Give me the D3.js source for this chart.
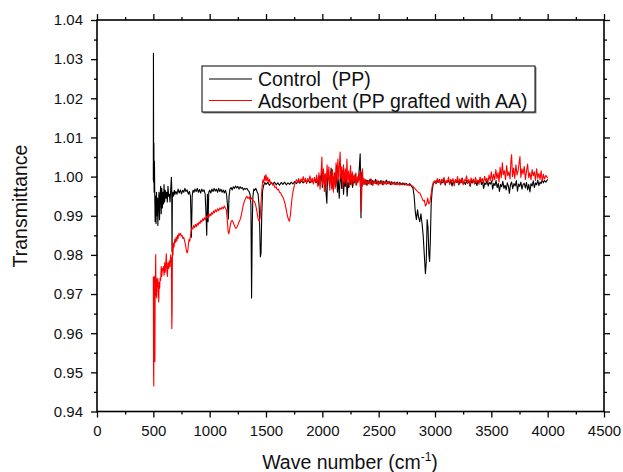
<!DOCTYPE html>
<html>
<head>
<meta charset="utf-8">
<script src="https://cdn.jsdelivr.net/npm/d3@7"></script>
<style>
  body { margin: 0; background: #fff; }
  svg { font-family: "Liberation Sans", Arial, sans-serif; }
  .axis path { display: none; }
  .axis line { stroke: #000; stroke-width: 1.3; }
  .axis text { font-size: 15px; fill: #111; }
</style>
</head>
<body>
<svg id="chart"></svg>
<script>
// FTIR spectra: Control (PP) vs Adsorbent (PP grafted with AA)

const xTicks = [0, 500, 1000, 1500, 2000, 2500, 3000, 3500, 4000, 4500];
const yTicks = [0.94, 0.95, 0.96, 0.97, 0.98, 0.99, 1.00, 1.01, 1.02, 1.03, 1.04];
const seriesNames = ["Control  (PP)", "Adsorbent (PP grafted with AA)"];

// [wave number, transmittance]
const controlPP = [
  [500,0.9990],[501,1.0315],[503,0.9985],[505,1.0085],[507,0.9960],[510,1.0040],[513,0.9945],[516,0.9885],
  [520,0.9950],[524,0.9880],[528,0.9960],[532,0.9900],[536,0.9945],[540,0.9875],[545,0.9930],[550,0.9960],
  [555,0.9890],[560,0.9950],[565,0.9975],[570,0.9905],[575,0.9970],[580,0.9920],[585,0.9960],[590,0.9930],
  [595,0.9980],[600,0.9935],[606,0.9965],[612,0.9945],[618,0.9960],[624,0.9935],[630,0.9975],[636,0.9950],
  [642,0.9955],[648,0.9935],[654,0.9965],[660,0.9998],[663,0.9975],[666,0.9808],[669,0.9945],[674,0.9960],
  [680,0.9950],[686,0.9965],[692,0.9955],[700,0.9962],[710,0.9955],[720,0.9968],[730,0.9958],[740,0.9966],
  [750,0.9956],[760,0.9965],[770,0.9960],[780,0.9970],[790,0.9962],[800,0.9966],[810,0.9955],[820,0.9962],
  [830,0.9950],[838,0.9845],[845,0.9950],[852,0.9965],[860,0.9960],[870,0.9968],[880,0.9962],[890,0.9970],
  [900,0.9960],[910,0.9967],[920,0.9958],[930,0.9968],[940,0.9962],[950,0.9966],[960,0.9955],[968,0.9900],
  [974,0.9850],[980,0.9955],[986,0.9885],[992,0.9960],[1000,0.9965],[1010,0.9958],[1020,0.9968],[1030,0.9962],
  [1040,0.9970],[1050,0.9963],[1060,0.9968],[1070,0.9960],[1080,0.9970],[1090,0.9962],[1100,0.9968],[1110,0.9960],
  [1120,0.9966],[1130,0.9958],[1140,0.9965],[1150,0.9955],[1160,0.9920],[1166,0.9892],[1172,0.9950],[1180,0.9968],
  [1190,0.9972],[1200,0.9966],[1210,0.9974],[1220,0.9970],[1230,0.9976],[1240,0.9971],[1250,0.9975],[1260,0.9968],
  [1270,0.9974],[1280,0.9970],[1290,0.9972],[1300,0.9966],[1310,0.9970],[1320,0.9968],[1330,0.9970],[1340,0.9965],
  [1350,0.9962],[1358,0.9955],[1366,0.9930],[1372,0.9690],[1378,0.9880],[1384,0.9950],[1392,0.9968],[1400,0.9965],
  [1410,0.9970],[1420,0.9962],[1430,0.9955],[1440,0.9920],[1450,0.9795],[1456,0.9805],[1462,0.9900],[1470,0.9965],
  [1480,0.9978],[1490,0.9985],[1500,0.9980],[1515,0.9985],[1530,0.9978],[1545,0.9984],[1560,0.9980],[1575,0.9986],
  [1590,0.9979],[1605,0.9984],[1620,0.9978],[1635,0.9985],[1650,0.9980],[1665,0.9986],[1680,0.9979],[1695,0.9984],
  [1710,0.9980],[1725,0.9986],[1740,0.9981],[1755,0.9987],[1770,0.9982],[1785,0.9988],[1800,0.9983],[1815,0.9989],
  [1830,0.9984],[1845,0.9990],[1860,0.9985],[1875,0.9991],[1890,0.9984],[1905,0.9990],[1920,0.9986],[1935,0.9992],
  [1950,0.9985],[1960,0.9993],[1968,0.9978],[1978,1.0002],[1986,0.9990],[1994,1.0012],[2000,0.9972],[2008,0.9998],
  [2016,0.9985],[2024,1.0006],[2032,0.9962],[2040,0.9932],[2046,0.9995],[2054,1.0012],[2062,0.9980],[2070,0.9990],
  [2078,1.0022],[2086,0.9968],[2094,1.0000],[2102,0.9985],[2110,1.0010],[2118,0.9975],[2126,1.0028],[2134,0.9960],
  [2142,0.9992],[2150,0.9945],[2156,0.9985],[2164,1.0008],[2172,0.9970],[2180,1.0016],[2188,0.9955],[2196,0.9990],
  [2204,0.9975],[2212,1.0012],[2220,0.9950],[2228,0.9985],[2236,0.9972],[2244,1.0004],[2252,0.9980],[2260,0.9993],
  [2268,0.9972],[2276,1.0000],[2284,0.9984],[2292,1.0006],[2300,0.9978],[2308,0.9995],[2316,0.9985],[2324,1.0005],
  [2330,1.0030],[2336,1.0058],[2340,0.9985],[2343,0.9895],[2347,1.0010],[2352,0.9975],[2360,0.9995],[2370,0.9980],
  [2380,0.9992],[2390,0.9978],[2400,0.9990],[2412,0.9982],[2424,0.9994],[2436,0.9980],[2448,0.9990],[2460,0.9983],
  [2472,0.9993],[2484,0.9981],[2496,0.9989],[2508,0.9982],[2520,0.9990],[2532,0.9980],[2544,0.9988],[2556,0.9983],
  [2568,0.9991],[2580,0.9982],[2592,0.9988],[2604,0.9980],[2616,0.9987],[2628,0.9981],[2640,0.9986],[2652,0.9980],
  [2664,0.9986],[2676,0.9981],[2688,0.9985],[2700,0.9980],[2715,0.9984],[2730,0.9979],[2745,0.9983],[2760,0.9978],
  [2775,0.9982],[2790,0.9976],[2805,0.9970],[2815,0.9950],[2825,0.9910],[2835,0.9890],[2845,0.9915],[2855,0.9895],
  [2865,0.9885],[2875,0.9905],[2885,0.9880],[2895,0.9850],[2905,0.9800],[2915,0.9752],[2922,0.9780],[2930,0.9890],
  [2938,0.9870],[2946,0.9800],[2952,0.9783],[2958,0.9830],[2966,0.9930],[2975,0.9965],[2985,0.9982],
  [3000,0.9988],[3010,0.9982],[3020,0.9990],[3028,0.9985],[3040,0.9993],[3050,0.9980],[3058,0.9987],[3070,0.9984],
  [3080,0.9994],[3090,0.9978],[3100,0.9988],[3110,0.9986],[3120,0.9991],[3130,0.9981],[3140,0.9990],[3152,0.9976],
  [3160,0.9986],[3172,0.9983],[3182,0.9992],[3190,0.9985],[3200,0.9989],[3212,0.9979],[3222,0.9991],[3230,0.9984],
  [3242,0.9996],[3250,0.9982],[3260,0.9986],[3270,0.9980],[3282,0.9990],[3290,0.9983],[3302,0.9988],[3312,0.9975],
  [3322,0.9989],[3332,0.9984],[3342,0.9993],[3352,0.9981],[3362,0.9987],[3372,0.9977],[3382,0.9990],[3392,0.9985],
  [3402,0.9994],[3412,0.9980],[3422,0.9986],[3432,0.9970],[3442,0.9984],[3452,0.9980],[3462,0.9991],[3472,0.9976],
  [3482,0.9985],[3492,0.9981],[3502,0.9989],[3512,0.9968],[3522,0.9983],[3532,0.9977],[3542,0.9990],[3552,0.9972],
  [3562,0.9982],[3572,0.9962],[3582,0.9980],[3592,0.9974],[3602,0.9988],[3612,0.9970],[3622,0.9978],[3632,0.9966],
  [3642,0.9984],[3652,0.9975],[3660,0.9957],[3670,0.9979],[3680,0.9986],[3690,0.9969],[3700,0.9982],[3712,0.9976],
  [3722,0.9990],[3732,0.9963],[3742,0.9981],[3752,0.9975],[3762,0.9986],[3772,0.9968],[3782,0.9980],[3792,0.9983],
  [3802,0.9971],[3812,0.9985],[3822,0.9966],[3832,0.9980],[3842,0.9961],[3852,0.9982],[3862,0.9976],[3872,0.9989],
  [3882,0.9972],[3892,0.9984],[3902,0.9979],[3912,0.9991],[3922,0.9977],[3932,0.9986],[3942,0.9982],[3952,0.9992],
  [3962,0.9984],[3972,0.9990],[3984,0.9986],[4000,0.9993]
];

const adsorbentPPAA = [
  [500,0.9745],[502,0.9500],[504,0.9465],[506,0.9720],[508,0.9640],[510,0.9745],[512,0.9600],[514,0.9528],
  [516,0.9700],[518,0.9730],[521,0.9801],[524,0.9695],[527,0.9740],[530,0.9690],[533,0.9735],[536,0.9720],
  [540,0.9740],[544,0.9705],[548,0.9680],[552,0.9730],[556,0.9715],[560,0.9740],[565,0.9735],[570,0.9770],
  [575,0.9745],[580,0.9765],[585,0.9760],[590,0.9770],[595,0.9748],[600,0.9780],[605,0.9755],[610,0.9775],
  [615,0.9803],[620,0.9760],[625,0.9745],[630,0.9780],[636,0.9765],[642,0.9785],[648,0.9770],[654,0.9800],
  [660,0.9790],[664,0.9612],[667,0.9655],[670,0.9830],[674,0.9800],[678,0.9830],[684,0.9820],[690,0.9840],
  [696,0.9832],[702,0.9845],[708,0.9835],[714,0.9850],[720,0.9842],[727,0.9855],[734,0.9850],[741,0.9855],
  [748,0.9848],[755,0.9850],[762,0.9842],[770,0.9845],[778,0.9835],[786,0.9825],[794,0.9810],[800,0.9805],
  [806,0.9810],[812,0.9830],[818,0.9840],[824,0.9835],[830,0.9850],[836,0.9862],[842,0.9870],[850,0.9866],
  [858,0.9875],[866,0.9870],[874,0.9878],[882,0.9872],[890,0.9880],[898,0.9876],[906,0.9884],[914,0.9880],
  [922,0.9888],[930,0.9884],[938,0.9892],[946,0.9888],[954,0.9895],[962,0.9890],[970,0.9898],[978,0.9894],
  [986,0.9902],[994,0.9897],[1002,0.9905],[1010,0.9900],[1018,0.9908],[1026,0.9904],[1034,0.9912],[1042,0.9908],
  [1050,0.9915],[1060,0.9910],[1070,0.9918],[1080,0.9913],[1090,0.9920],[1100,0.9916],[1110,0.9922],[1120,0.9918],
  [1130,0.9925],[1140,0.9920],[1148,0.9915],[1156,0.9890],[1164,0.9860],[1170,0.9854],[1176,0.9862],[1184,0.9878],
  [1192,0.9886],[1200,0.9888],[1208,0.9884],[1216,0.9878],[1224,0.9872],[1232,0.9868],[1240,0.9870],[1250,0.9876],
  [1260,0.9884],[1270,0.9890],[1280,0.9900],[1290,0.9915],[1300,0.9930],[1310,0.9938],[1320,0.9945],[1330,0.9950],
  [1340,0.9944],[1350,0.9948],[1360,0.9940],[1370,0.9946],[1380,0.9940],[1390,0.9938],[1400,0.9935],[1410,0.9925],
  [1420,0.9910],[1430,0.9892],[1440,0.9885],[1448,0.9895],[1456,0.9935],[1464,0.9970],[1472,0.9992],[1480,0.9985],
  [1488,1.0002],[1494,0.9990],[1500,1.0005],[1508,0.9988],[1516,0.9998],[1524,0.9985],[1532,0.9993],[1540,0.9982],
  [1550,0.9986],[1560,0.9978],[1570,0.9980],[1580,0.9972],[1590,0.9974],[1600,0.9966],[1610,0.9968],[1620,0.9960],
  [1630,0.9958],[1640,0.9952],[1650,0.9948],[1660,0.9940],[1670,0.9930],[1680,0.9915],[1690,0.9900],[1700,0.9890],
  [1708,0.9886],[1716,0.9900],[1724,0.9925],[1732,0.9948],[1740,0.9962],[1750,0.9975],[1760,0.9985],[1770,0.9992],
  [1780,0.9986],[1790,0.9995],[1800,0.9984],[1810,0.9994],[1820,0.9988],[1830,1.0000],[1840,0.9986],[1850,0.9996],
  [1860,0.9982],[1870,0.9995],[1880,0.9989],[1890,1.0002],[1900,0.9985],[1910,0.9996],[1920,0.9981],[1930,0.9998],
  [1940,0.9984],[1950,1.0004],[1960,0.9975],[1970,1.0010],[1980,0.9968],[1990,1.0015],[1996,1.0050],[2002,0.9980],
  [2010,1.0020],[2018,0.9962],[2026,1.0008],[2034,0.9975],[2042,1.0030],[2050,0.9990],[2058,1.0025],[2066,0.9965],
  [2074,1.0012],[2082,0.9972],[2090,1.0018],[2098,0.9960],[2106,1.0008],[2114,0.9970],[2122,1.0035],[2130,0.9985],
  [2138,1.0045],[2146,0.9990],[2152,1.0030],[2158,1.0063],[2164,0.9995],[2172,1.0025],[2180,0.9970],[2188,1.0030],
  [2196,0.9985],[2204,1.0020],[2212,0.9980],[2218,1.0045],[2226,0.9985],[2234,1.0015],[2242,0.9975],[2250,1.0028],
  [2258,0.9982],[2266,1.0012],[2274,0.9978],[2282,1.0005],[2290,0.9985],[2298,1.0010],[2306,0.9980],[2314,1.0000],
  [2322,0.9990],[2330,1.0008],[2336,0.9975],[2342,1.0015],[2346,0.9912],[2350,0.9960],[2356,1.0020],[2362,0.9980],
  [2370,0.9995],[2380,0.9980],[2390,0.9992],[2400,0.9978],[2412,0.9990],[2424,0.9980],[2436,0.9993],[2448,0.9977],
  [2460,0.9988],[2472,0.9982],[2484,0.9991],[2496,0.9978],[2508,0.9987],[2520,0.9981],[2532,0.9989],[2544,0.9979],
  [2556,0.9986],[2568,0.9980],[2580,0.9988],[2592,0.9981],[2604,0.9986],[2616,0.9979],[2628,0.9985],[2640,0.9980],
  [2652,0.9984],[2664,0.9979],[2676,0.9983],[2688,0.9978],[2700,0.9982],[2715,0.9979],[2730,0.9983],[2745,0.9978],
  [2760,0.9980],[2775,0.9977],[2790,0.9978],[2805,0.9975],[2820,0.9970],[2835,0.9965],[2850,0.9960],[2865,0.9958],
  [2875,0.9952],[2885,0.9945],[2895,0.9938],[2905,0.9940],[2915,0.9925],[2925,0.9930],[2935,0.9945],[2945,0.9930],
  [2955,0.9935],[2965,0.9955],[2975,0.9975],[2985,0.9985],
  [3000,0.9990],[3010,0.9983],[3020,0.9995],[3030,0.9986],[3040,0.9992],[3050,0.9979],[3060,0.9994],[3070,0.9988],
  [3080,0.9998],[3090,0.9981],[3100,0.9990],[3110,0.9985],[3120,0.9999],[3130,0.9980],[3140,0.9993],[3150,0.9987],
  [3160,0.9995],[3170,0.9976],[3180,0.9991],[3190,0.9986],[3200,1.0000],[3210,0.9982],[3220,0.9994],[3230,0.9984],
  [3240,0.9996],[3250,0.9979],[3260,0.9992],[3270,0.9989],[3280,1.0002],[3290,0.9983],[3300,0.9993],[3310,0.9978],
  [3320,0.9997],[3330,0.9986],[3340,0.9994],[3350,0.9982],[3360,0.9998],[3370,0.9985],[3380,0.9991],[3390,0.9980],
  [3400,0.9999],[3410,0.9987],[3420,0.9995],[3430,0.9983],[3440,1.0001],[3450,0.9988],[3460,0.9996],[3470,0.9985],
  [3480,1.0004],[3490,0.9990],[3500,1.0012],[3510,0.9988],[3520,1.0006],[3530,0.9992],[3540,1.0018],[3550,0.9995],
  [3560,1.0010],[3568,0.9986],[3578,1.0024],[3588,0.9997],[3598,1.0035],[3606,1.0005],[3616,1.0015],[3626,0.9992],
  [3636,1.0028],[3646,1.0002],[3656,1.0012],[3666,0.9994],[3674,1.0040],[3680,1.0056],[3688,1.0000],[3698,1.0022],
  [3708,0.9995],[3718,1.0030],[3728,1.0004],[3738,1.0016],[3748,1.0038],[3754,1.0051],[3762,0.9998],[3772,1.0020],
  [3782,1.0006],[3792,1.0026],[3802,0.9993],[3812,1.0014],[3822,1.0032],[3832,0.9997],[3842,1.0010],[3852,0.9992],
  [3862,1.0018],[3872,1.0002],[3882,1.0012],[3892,0.9990],[3902,1.0020],[3912,0.9996],[3922,1.0008],[3932,0.9993],
  [3942,1.0015],[3952,0.9988],[3962,1.0006],[3972,0.9994],[3984,1.0003],[4000,0.9996]
];

const width = 623;
const height = 472;
const margins = {top: 20, right: 19, bottom: 60.5, left: 97};

const svg = d3.select('#chart')
  .attr("width", width)
  .attr("height", height);

const x = d3.scaleLinear().domain([0, 4500]).range([margins.left, width - margins.right]);
const y = d3.scaleLinear().domain([0.94, 1.04]).range([height - margins.bottom, margins.top]);

// minor tick positions (half way between majors)
const xMinor = xTicks.slice(0, -1).map(d => d + 250);
const yMinor = yTicks.slice(0, -1).map(d => d + 0.005);

const bottomY = height - margins.bottom;
const rightX = width - margins.right;

// Bottom axis, labels + ticks
svg.append('g').attr("class", "axis")
  .attr("transform", `translate(0,${bottomY})`)
  .call(d3.axisBottom(x).tickValues(xTicks).tickSize(6).tickPadding(8).tickFormat(d3.format("d")));
svg.append('g').attr("class", "axis")
  .attr("transform", `translate(0,${bottomY})`)
  .call(d3.axisBottom(x).tickValues(xMinor).tickSize(3).tickFormat(""));
// Top axis, ticks only
svg.append('g').attr("class", "axis")
  .attr("transform", `translate(0,${margins.top})`)
  .call(d3.axisTop(x).tickValues(xTicks).tickSize(6).tickFormat(""));
svg.append('g').attr("class", "axis")
  .attr("transform", `translate(0,${margins.top})`)
  .call(d3.axisTop(x).tickValues(xMinor).tickSize(3).tickFormat(""));
// Left axis
svg.append('g').attr("class", "axis")
  .attr("transform", `translate(${margins.left},0)`)
  .call(d3.axisLeft(y).tickValues(yTicks).tickSize(6).tickPadding(8).tickFormat(d3.format(".2f")));
svg.append('g').attr("class", "axis")
  .attr("transform", `translate(${margins.left},0)`)
  .call(d3.axisLeft(y).tickValues(yMinor).tickSize(3).tickFormat(""));
// Right axis, ticks only
svg.append('g').attr("class", "axis")
  .attr("transform", `translate(${rightX},0)`)
  .call(d3.axisRight(y).tickValues(yTicks).tickSize(6).tickFormat(""));
svg.append('g').attr("class", "axis")
  .attr("transform", `translate(${rightX},0)`)
  .call(d3.axisRight(y).tickValues(yMinor).tickSize(3).tickFormat(""));

// Frame
svg.append('rect')
  .attr("x", margins.left).attr("y", margins.top)
  .attr("width", rightX - margins.left).attr("height", bottomY - margins.top)
  .attr("fill", "none").attr("stroke", "#000").attr("stroke-width", 1.6);

// Spectra
const line = d3.line().x(d => x(d[0])).y(d => y(d[1]));
svg.append('path').datum(controlPP)
  .attr("d", line).attr("fill", "none").attr("stroke", "#000").attr("stroke-width", 1.1)
  .attr("stroke-linejoin", "round");
svg.append('path').datum(adsorbentPPAA)
  .attr("d", line).attr("fill", "none").attr("stroke", "#ff0000").attr("stroke-width", 1.1)
  .attr("stroke-linejoin", "round");

// Legend
const legend = svg.append('g');
legend.append('rect')
  .attr("x", 203).attr("y", 67).attr("width", 333.5).attr("height", 46.5)
  .attr("fill", "#888");
legend.append('rect')
  .attr("x", 202).attr("y", 66).attr("width", 333).attr("height", 46)
  .attr("fill", "#fff").attr("stroke", "#000").attr("stroke-width", 1);
const legendColors = ["#000", "#ff0000"];
const legendRowY = [79, 100.5];
seriesNames.forEach((name, i) => {
  legend.append('line')
    .attr("x1", 209).attr("x2", 252)
    .attr("y1", legendRowY[i]).attr("y2", legendRowY[i])
    .attr("stroke", legendColors[i]).attr("stroke-width", 1.1);
  legend.append('text')
    .attr("x", 258).attr("y", legendRowY[i] + 7)
    .attr("font-size", "19.5px").attr("fill", "#111")
    .attr("xml:space", "preserve")
    .style("white-space", "pre")
    .text(name);
});

// Axis titles
svg.append('text')
  .attr("x", 350).attr("y", 469)
  .attr("text-anchor", "middle")
  .attr("font-size", "19.5px").attr("fill", "#111")
  .call(t => {
    t.append('tspan').text("Wave number (cm");
    t.append('tspan').attr("dy", -8).attr("font-size", "12px").text("-1");
    t.append('tspan').attr("dy", 8).text(")");
  });
svg.append('text')
  .attr("transform", "translate(27,206) rotate(-90)")
  .attr("text-anchor", "middle")
  .attr("font-size", "19.5px").attr("fill", "#111")
  .text("Transmittance");
</script>
</body>
</html>
